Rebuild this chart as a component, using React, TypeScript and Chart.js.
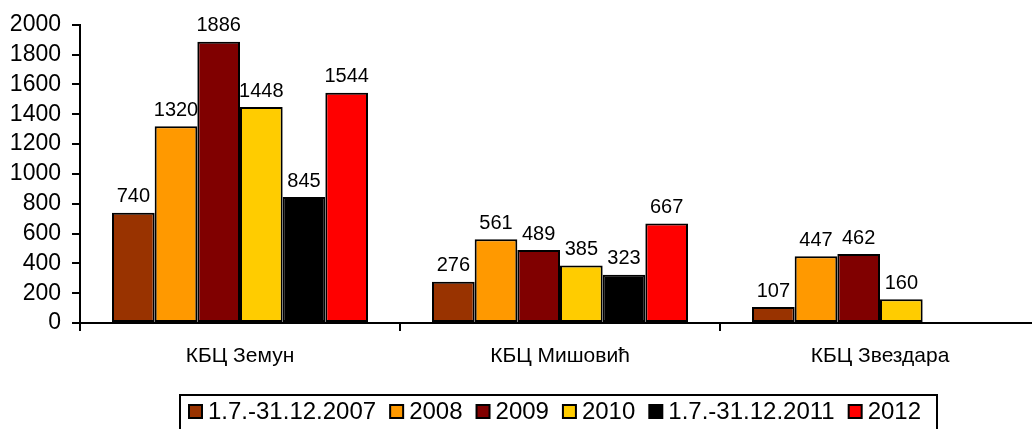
import React, { useEffect, useRef } from "react";
import { Chart, registerables } from "chart.js";

Chart.register(...registerables);

const categories = ["КБЦ Земун", "КБЦ Мишовић", "КБЦ Звездара"];
const seriesNames = ["1.7.-31.12.2007", "2008", "2009", "2010", "1.7.-31.12.2011", "2012"];
const seriesColors = ["#993300", "#FF9900", "#800000", "#FFCC00", "#000000", "#FF0000"];
const s2007 = [740, 276, 107];
const s2008 = [1320, 561, 447];
const s2009 = [1886, 489, 462];
const s2010 = [1448, 385, 160];
const s2011 = [845, 323, null];
const s2012 = [1544, 667, null];
const seriesValues = [s2007, s2008, s2009, s2010, s2011, s2012];

const FONT = "'Liberation Sans', Arial, sans-serif";

const labelPlugin = {
  id: "valueLabels",
  afterDatasetsDraw(chart: any) {
    const ctx = chart.ctx;
    ctx.save();
    ctx.font = `20px ${FONT}`;
    ctx.fillStyle = "#000";
    ctx.textAlign = "center";
    ctx.textBaseline = "bottom";
    chart.data.datasets.forEach((ds: any, i: number) => {
      const meta = chart.getDatasetMeta(i);
      meta.data.forEach((bar: any, j: number) => {
        const v = ds.data[j];
        if (v === null || v === undefined) return;
        ctx.fillText(String(v), bar.x, bar.y - 6);
      });
    });
    ctx.restore();
  },
};

const legendPlugin = {
  id: "boxLegend",
  afterDraw(chart: any) {
    const ctx = chart.ctx;
    ctx.save();
    ctx.lineWidth = 2;
    ctx.strokeStyle = "#000";
    ctx.strokeRect(180, 395, 757, 42);
    ctx.font = `24px ${FONT}`;
    ctx.textBaseline = "middle";
    ctx.textAlign = "left";
    let x = 189;
    const cy = 411;
    seriesNames.forEach((name, i) => {
      ctx.fillStyle = seriesColors[i];
      ctx.fillRect(x, cy - 6, 13, 13);
      ctx.lineWidth = 2;
      ctx.strokeStyle = "#000";
      ctx.strokeRect(x, cy - 6, 13, 13);
      ctx.fillStyle = "#000";
      const tx = x + 19;
      ctx.fillText(name, tx, cy + 1);
      x = tx + ctx.measureText(name).width + 14;
    });
    ctx.restore();
  },
};

export default function App() {
  const ref = useRef<HTMLCanvasElement | null>(null);
  useEffect(() => {
    document.body.style.margin = "0";
    const canvas = ref.current!;
    const chart = new Chart(canvas, {
      type: "bar",
      data: {
        labels: categories,
        datasets: seriesValues.map((vals, i) => ({
          label: seriesNames[i],
          data: vals,
          backgroundColor: seriesColors[i],
          borderColor: "#000",
          borderWidth: 2,
          borderSkipped: false,
          barPercentage: 1,
          categoryPercentage: 0.8,
        })),
      },
      options: {
        responsive: false,
        animation: false,
        layout: { padding: { top: 13, bottom: 56, left: 0, right: 0 } },
        plugins: { legend: { display: false }, tooltip: { enabled: false } },
        scales: {
          x: {
            grid: { drawOnChartArea: false, drawTicks: true, tickLength: 8, color: "#000", lineWidth: 2, offset: true },
            border: { display: true, color: "#000", width: 2 },
            ticks: { color: "#000", font: { family: FONT, size: 21 }, padding: 13, maxRotation: 0 },
            afterFit: (s: any) => { s.height = 50; },
          },
          y: {
            min: 0,
            max: 2000,
            grid: { drawOnChartArea: false, drawTicks: true, tickLength: 8, color: "#000", lineWidth: 2 },
            border: { display: true, color: "#000", width: 2 },
            ticks: {
              stepSize: 200,
              autoSkip: false,
              color: "#000",
              font: { family: FONT, size: 23 },
              padding: 11,
              callback: (v: any) => String(v),
            },
            afterFit: (s: any) => { s.width = 80; },
          },
        },
      },
      plugins: [labelPlugin, legendPlugin],
    });
    return () => chart.destroy();
  }, []);
  return (
    <div style={{ width: 1032, height: 429, overflow: "hidden", position: "relative", background: "#fff" }}>
      <canvas ref={ref} width={1040} height={429} style={{ width: 1040, height: 429, display: "block" }} />
    </div>
  );
}
